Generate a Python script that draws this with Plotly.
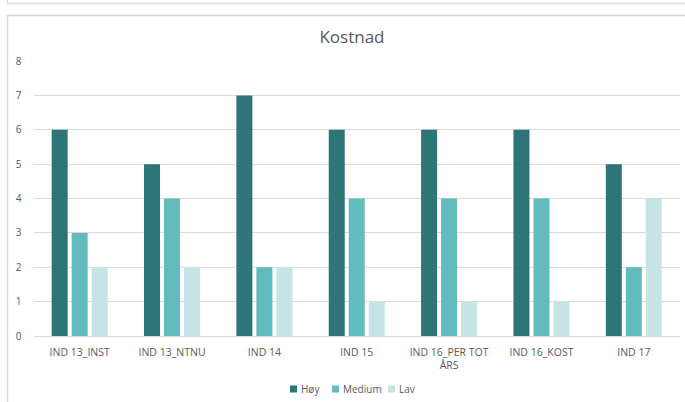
import plotly.graph_objects as go

W, H = 685, 402

categories = ["IND 13_INST", "IND 13_NTNU", "IND 14", "IND 15",
              "IND 16_PER TOT<br>ÅRS", "IND 16_KOST", "IND 17"]
series_names = ["Høy", "Medium", "Lav"]
hoy = [6, 5, 7, 6, 6, 6, 5]
medium = [3, 4, 2, 4, 4, 4, 2]
lav = [2, 2, 2, 1, 1, 1, 4]
y_ticks = [0, 1, 2, 3, 4, 5, 6, 7, 8]

colors = {"Høy": "#2E7577", "Medium": "#62BBBC", "Lav": "#C6E4E6"}
text_color = "#595959"
grid_color = "#D9D9D9"
font_family = "Open Sans, Noto Sans, sans-serif"


def px_x(x):
    return x / W


def px_y(y):
    return 1 - y / H


fig = go.Figure()
for name, vals in zip(series_names, [hoy, medium, lav]):
    fig.add_trace(go.Bar(
        x=categories, y=vals, name=name, showlegend=False,
        marker=dict(color=colors[name], line=dict(width=0)),
    ))

# plot area in pixels
left, right, top, bottom = 33.5, 680, 61, 336

shapes = [
    # frame of the panel above
    dict(type="line", xref="paper", yref="paper",
         x0=px_x(7), x1=px_x(W + 5), y0=px_y(3.5), y1=px_y(3.5),
         line=dict(color=grid_color, width=1.5)),
    dict(type="line", xref="paper", yref="paper",
         x0=px_x(7.5), x1=px_x(7.5), y0=px_y(0), y1=px_y(3.5),
         line=dict(color=grid_color, width=1)),
    # chart panel frame
    dict(type="rect", xref="paper", yref="paper",
         x0=px_x(7.5), x1=px_x(W + 5), y0=px_y(15.5), y1=px_y(H + 5),
         line=dict(color=grid_color, width=1.5), fillcolor="rgba(0,0,0,0)",
         layer="below"),
]
annotations = []

# compact legend: small square swatch followed by the series name
legend_x = {"Høy": 290, "Medium": 332, "Lav": 388}
legend_y = 389
for name in series_names:
    x0 = legend_x[name]
    shapes.append(dict(type="rect", xref="paper", yref="paper",
                       x0=px_x(x0), x1=px_x(x0 + 7),
                       y0=px_y(legend_y + 3.5), y1=px_y(legend_y - 3.5),
                       line=dict(width=0), fillcolor=colors[name]))
    annotations.append(dict(text=name, xref="paper", yref="paper",
                            x=px_x(x0 + 9), y=px_y(legend_y),
                            xanchor="left", yanchor="middle", showarrow=False,
                            font=dict(size=10, color=text_color)))

fig.update_layout(
    width=W, height=H,
    margin=dict(l=0, r=0, t=0, b=0, autoexpand=False),
    paper_bgcolor="white", plot_bgcolor="white",
    barmode="group", bargap=0.35, bargroupgap=0.2,
    font=dict(family=font_family, color=text_color, size=10),
    title=dict(text="Kostnad", x=px_x(352), y=px_y(37),
               xanchor="center", yanchor="middle",
               font=dict(size=17, color=text_color, family=font_family)),
    xaxis=dict(domain=[px_x(left), px_x(right)], showgrid=False,
               showline=True, linecolor=grid_color, linewidth=1,
               ticks="", ticklabelstandoff=6, automargin=False,
               tickfont=dict(size=10.5, color=text_color), fixedrange=True),
    yaxis=dict(domain=[px_y(bottom), px_y(top)], range=[0, 8],
               tickvals=y_ticks, showgrid=True, gridcolor=grid_color,
               gridwidth=1, zeroline=False, showline=False, ticks="",
               ticklabelstandoff=11, automargin=False,
               tickfont=dict(size=10, color=text_color), fixedrange=True),
    showlegend=False,
    shapes=shapes,
    annotations=annotations,
)

fig.write_html("out.html")
